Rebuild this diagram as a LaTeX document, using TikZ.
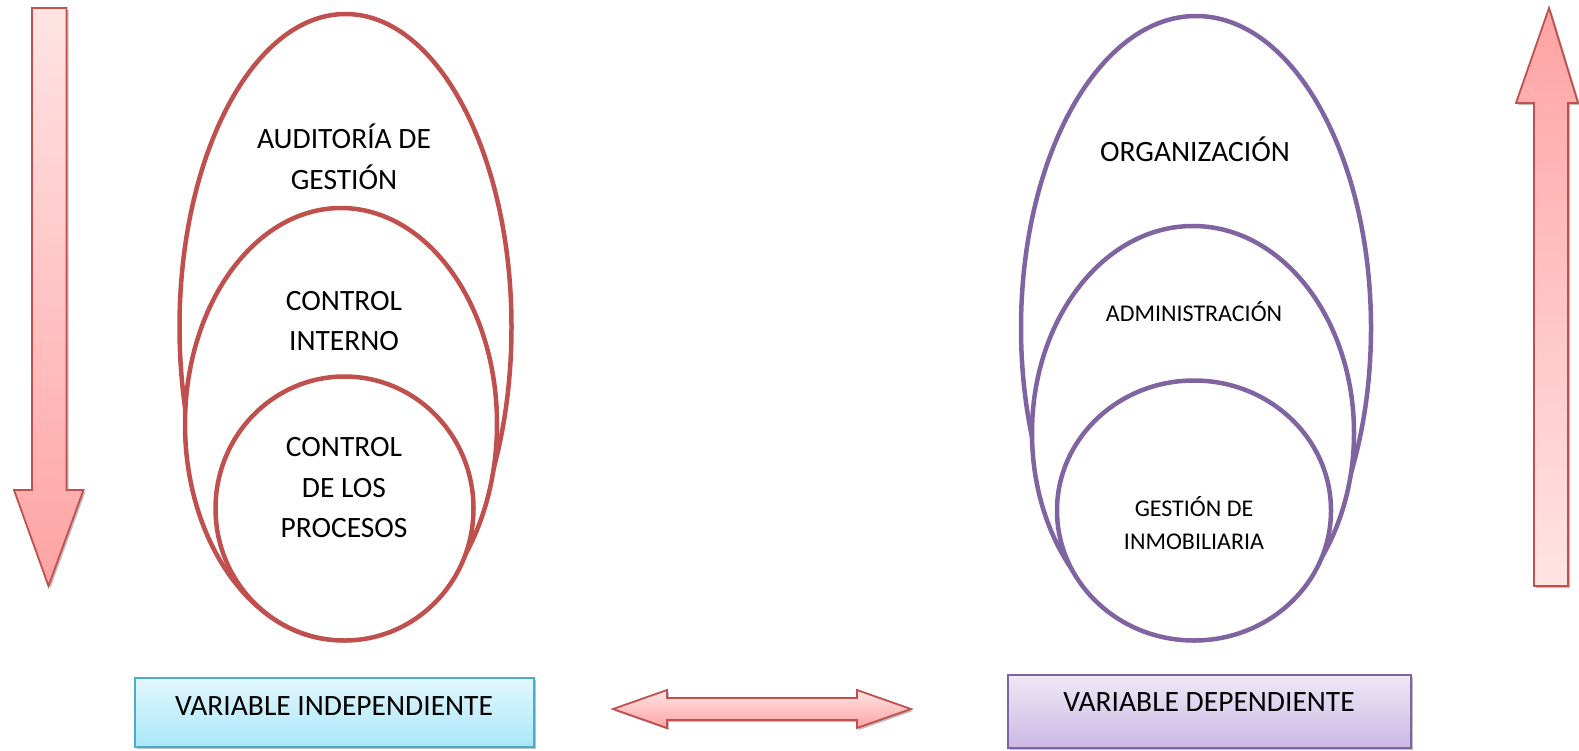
\documentclass[tikz,border=0pt]{standalone}
\usepackage{fontspec}
\setmainfont{Carlito}
\usetikzlibrary{shadows}
\definecolor{redline}{HTML}{C0504D}
\definecolor{purpline}{HTML}{8064A2}
\definecolor{pinklight}{HTML}{FFE4E4}
\definecolor{pinkdark}{HTML}{FFA3A3}
\definecolor{cyanline}{HTML}{4BACC6}
\definecolor{cyantop}{HTML}{E2F6FC}
\definecolor{cyanbot}{HTML}{A9E8FA}
\definecolor{lilactop}{HTML}{EEE8F6}
\definecolor{lilacbot}{HTML}{CBB9E4}
\tikzset{
  redoval/.style={draw=redline, line width=4.5pt, fill=white},
  purpoval/.style={draw=purpline, line width=4.5pt, fill=white},
  bigarrow/.style={draw=redline, line width=1.8pt, line join=miter,
    drop shadow={shadow xshift=2pt, shadow yshift=-2pt, opacity=0.25, fill=black}},
  label/.style={font=\fontsize{29.5}{40.5}\selectfont, align=center, text=black},
  smalllabel/.style={font=\fontsize{24}{33}\selectfont, align=center, text=black},
  varbox/.style={line width=1.8pt, minimum width=399pt, minimum height=69pt, inner sep=0pt,
    drop shadow={shadow xshift=2pt, shadow yshift=-2pt, opacity=0.25, fill=black}}
}
\begin{document}
\begin{tikzpicture}[x=1pt, y=-1pt]
\useasboundingbox (0,0) rectangle (1579,750);

% downward arrow on the left
\path[bigarrow, top color=pinklight, bottom color=pinkdark]
  (32,8) -- (66.5,8) -- (66.5,490) -- (83.5,490) -- (48.5,586) -- (14,490) -- (32,490) -- cycle;

% upward arrow on the right
\path[bigarrow, top color=pinkdark, bottom color=pinklight]
  (1534,586) -- (1568,586) -- (1568,103) -- (1578,103) -- (1549,8) -- (1516,103) -- (1534,103) -- cycle;

% nested ovals: independent variable
\draw[redoval] (345.5,327) ellipse [x radius=166, y radius=313];
\draw[redoval] (341,424) ellipse [x radius=156, y radius=216];
\draw[redoval] (344.5,508.5) ellipse [x radius=129, y radius=132];

\node[label] (aud) at (344,157) {AUDITORÍA DE\\GESTIÓN};
\node[label] (ci) at (344,321) {CONTROL\\INTERNO};
\node[label] (cp) at (344,488) {CONTROL\\DE LOS\\PROCESOS};

% nested ovals: dependent variable
\draw[purpoval] (1196,328) ellipse [x radius=175, y radius=312];
\draw[purpoval] (1193,433) ellipse [x radius=161, y radius=207];
\draw[purpoval] (1194,510.5) ellipse [x radius=137, y radius=130];

\node[label] (org) at (1195,149) {ORGANIZACIÓN};
\node[smalllabel] (adm) at (1194,312) {ADMINISTRACIÓN};
\node[smalllabel] (gest) at (1194,523) {GESTIÓN DE\\INMOBILIARIA};

% variable boxes
\node[varbox, draw=cyanline, top color=cyantop, bottom color=cyanbot]
  (vi) at (334.5,712.5) {};
\node[label] (vitext) at (334,706) {VARIABLE INDEPENDIENTE};
\node[varbox, draw=purpline, top color=lilactop, bottom color=lilacbot,
  minimum width=403pt, minimum height=73pt]
  (vd) at (1209.5,711.5) {};
\node[label] (vdtext) at (1209,702) {VARIABLE DEPENDIENTE};

% two-way arrow between the boxes
\path[bigarrow, top color=pinklight, bottom color=pinkdark]
  (613,709) -- (667,690) -- (667,698) -- (857,698) -- (857,690) -- (911,709)
  -- (857,728) -- (857,720) -- (667,720) -- (667,728) -- cycle;
\end{tikzpicture}
\end{document}
